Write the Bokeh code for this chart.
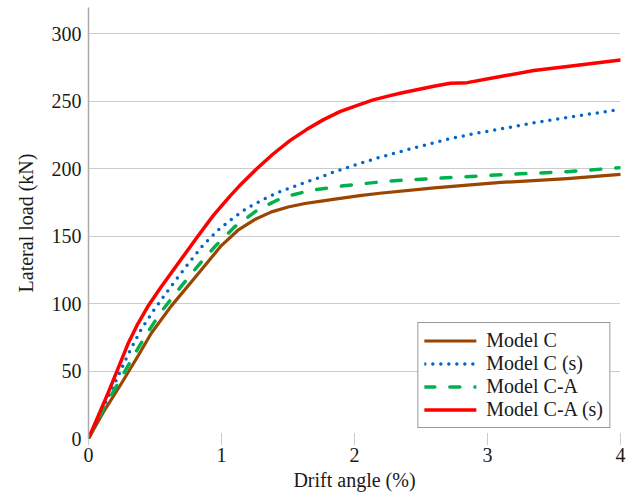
from bokeh.plotting import figure
from bokeh.models import Range1d, FixedTicker, Legend, LegendItem
from bokeh.embed import file_html
from bokeh.resources import INLINE

# Model C
drift_c = [0, 0.12, 0.246, 0.371, 0.472, 0.623, 0.773, 0.911, 0.999, 1.124, 1.25, 1.376,
           1.501, 1.627, 1.764, 1.84, 2.04, 2.19, 2.6, 3.1, 3.6, 4.0]
load_c = [0, 20.9, 40.6, 61.0, 78.0, 98.3, 116.0, 132.5, 143.0, 154.4, 162.3, 168.0,
          171.6, 174.2, 176.1, 177.3, 180.0, 181.8, 185.8, 189.8, 192.7, 195.8]

# Model C (s)
drift_cs = [0, 0.1, 0.196, 0.296, 0.397, 0.497, 0.623, 0.748, 0.861, 0.986, 1.087, 1.187,
            1.338, 1.451, 1.627, 1.739, 1.852, 1.965, 2.083, 2.199, 2.317, 2.487, 2.605,
            2.724, 2.899, 3.1, 3.35, 3.6, 3.97]
load_cs = [0, 21.0, 40.6, 62.0, 81.1, 95.9, 113.1, 129.3, 143.2, 155.6, 163.4, 170.4,
           178.5, 183.5, 189.8, 193.5, 197.8, 201.5, 205.2, 208.7, 211.9, 216.4, 219.4,
           222.4, 226.0, 229.5, 234.0, 238.0, 243.5]

# Model C-A
drift_ca = [0, 0.12, 0.246, 0.346, 0.447, 0.547, 0.698, 0.836, 0.949, 1.099, 1.275, 1.463,
            1.677, 1.883, 2.066, 2.267, 2.6, 3.1, 3.6, 4.0]
load_ca = [0, 23.3, 45.0, 62.5, 79.0, 94.0, 113.0, 129.5, 142.1, 156.9, 169.7, 178.8,
           184.0, 186.9, 188.9, 190.9, 192.8, 195.5, 197.8, 200.8]

# Model C-A (s)
drift_cas = [0, 0.07, 0.145, 0.221, 0.296, 0.371, 0.447, 0.547, 0.672, 0.811, 0.936, 1.062,
             1.137, 1.263, 1.388, 1.514, 1.639, 1.764, 1.89, 2.016, 2.141, 2.267, 2.342,
             2.596, 2.72, 2.847, 3.098, 3.348, 3.6, 4.0]
load_cas = [0, 16.0, 33.2, 51.6, 70.0, 85.0, 98.0, 112.5, 129.5, 148.5, 165.0, 179.5,
            187.5, 199.8, 210.9, 220.8, 229.0, 236.2, 242.3, 246.8, 251.0, 254.2, 255.9,
            261.1, 263.3, 263.8, 268.3, 272.8, 275.7, 280.5]

x_ticks = [0, 1, 2, 3, 4]
y_ticks = [0, 50, 100, 150, 200, 250, 300]

FONT = "Liberation Serif"

p = figure(width=629, height=498, output_backend="svg", toolbar_location=None,
           x_range=Range1d(0, 4), y_range=Range1d(0, 319.5),
           min_border_left=88, min_border_right=9, min_border_top=7, min_border_bottom=60)
p.outline_line_color = None
p.background_fill_color = "white"

r1 = p.line(drift_c, load_c, line_color="#9A4500", line_width=3.2, line_cap="round", line_join="round")
r2 = p.line(drift_cs, load_cs, line_color="#0066CC", line_width=3.5, line_dash="0 8", line_cap="round")
r3 = p.line(drift_ca, load_ca, line_color="#00B14F", line_width=3.5, line_dash="10 15", line_cap="round")
r4 = p.line(drift_cas, load_cas, line_color="#FF0000", line_width=3.5, line_cap="round", line_join="round")

p.xgrid.visible = False
p.ygrid.grid_line_color = "#999999"
p.ygrid.grid_line_dash = "1 1"
p.ygrid.grid_line_width = 1

p.xaxis.ticker = FixedTicker(ticks=x_ticks)
p.yaxis.ticker = FixedTicker(ticks=y_ticks)
p.xaxis.minor_tick_line_color = None
p.yaxis.minor_tick_line_color = None

p.xaxis.axis_line_color = None
p.xaxis.major_tick_line_color = "#999999"
p.xaxis.major_tick_line_dash = "1 1"
p.xaxis.major_tick_in = 6
p.xaxis.major_tick_out = 6
p.xaxis.major_label_standoff = 3

p.yaxis.axis_line_color = "#aaaaaa"
p.yaxis.axis_line_width = 1.5
p.yaxis.major_tick_line_color = None
p.yaxis.major_tick_in = 0
p.yaxis.major_tick_out = 0
p.yaxis.major_label_standoff = 7

for ax in (p.xaxis, p.yaxis):
    ax.major_label_text_font = FONT
    ax.major_label_text_font_size = "20px"
    ax.major_label_text_color = "#1a1a1a"
    ax.axis_label_text_font = FONT
    ax.axis_label_text_font_size = "20px"
    ax.axis_label_text_font_style = "normal"
    ax.axis_label_text_color = "#1a1a1a"

p.xaxis.axis_label = "Drift angle (%)"
p.yaxis.axis_label = "Lateral load (kN)"
p.xaxis.axis_label_standoff = 4
p.yaxis.axis_label_standoff = 12

legend = Legend(items=[
    LegendItem(label="Model C", renderers=[r1]),
    LegendItem(label="Model C (s)", renderers=[r2]),
    LegendItem(label="Model C-A", renderers=[r3]),
    LegendItem(label="Model C-A (s)", renderers=[r4]),
], location="bottom_right")
legend.margin = 10
legend.padding = 6
legend.spacing = 0
legend.glyph_width = 52
legend.glyph_height = 21
legend.label_height = 21
legend.label_standoff = 10
legend.label_text_font = FONT
legend.label_text_font_size = "20px"
legend.label_text_color = "#1a1a1a"
legend.border_line_color = "#333333"
legend.border_line_width = 1.2
legend.background_fill_alpha = 1
p.add_layout(legend)

open("out.html", "w").write(file_html(p, INLINE))
